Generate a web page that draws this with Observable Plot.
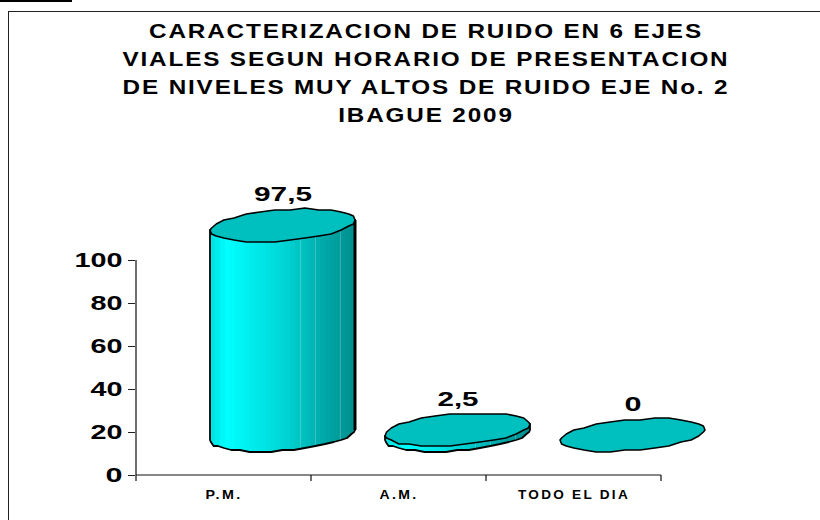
<!DOCTYPE html>
<html><head><meta charset="utf-8">
<script src="https://cdn.jsdelivr.net/npm/d3@7"></script>
<script src="https://cdn.jsdelivr.net/npm/@observablehq/plot@0.6"></script>
<style>
html,body{margin:0;padding:0;background:#fff;width:820px;height:520px;overflow:hidden}
#page{position:relative;width:820px;height:520px;overflow:hidden;font-family:"Liberation Sans",Arial,sans-serif}
#bar{position:absolute;left:0;top:0;width:72px;height:2px;background:#000}
#frame{position:absolute;left:8px;top:11px;width:830px;height:530px;border:1px solid #222;box-sizing:border-box}
#title{position:absolute;left:0;width:852px;top:17px;margin:0;text-align:center;font-size:21px;font-weight:bold;line-height:28px;letter-spacing:1.6px;color:#000;transform:scaleX(1.156);transform-origin:426px 0;white-space:nowrap}
#title span{display:block}
#chart{position:absolute;left:0;top:0}
</style></head><body>
<div id="page">
<div id="bar"></div><div id="frame"></div>
<h1 id="title"><span>CARACTERIZACION DE RUIDO EN 6 EJES</span><span>VIALES SEGUN HORARIO DE PRESENTACION</span><span>DE NIVELES MUY ALTOS DE RUIDO EJE No. 2</span><span>IBAGUE 2009</span></h1>
<div id="chart"></div>
</div>
<script>
const categories = ["P.M.", "A.M.", "TODO EL DIA"];
const values = [97.5, 2.5, 0];
const valueLabels = ["97,5", "2,5", "0"];
const yTicks = [0, 20, 40, 60, 80, 100];

const data = categories.map((c, i) => ({cat: c, value: values[i], label: valueLabels[i]}));
const depthX = 59, depthY = -40;   // pseudo-3D floor offset

function ring(cx, cy, from, to, n) {
  const a = 72.5, b = 15.5, k = 5.5, pts = [];
  for (let j = 0; j <= n; j++) {
    const t = from + (to - from) * j / n;
    pts.push([cx + a * Math.cos(t), Math.round((cy - b * Math.sin(t) - k * Math.cos(t)) / 2) * 2]);
  }
  return pts;
}
const line = d3.line();

function cylinders(I, s, c, dims, ctx) {
  const g = d3.select(ctx.document.createElementNS("http://www.w3.org/2000/svg", "g"));
  const step = c.x[1] - c.x[0];
  const defs = g.append("defs");
  const lg = defs.append("linearGradient").attr("id", "body").attr("x1", 0).attr("x2", 1).attr("y1", 0).attr("y2", 0);
  const ramp = d3.scaleLinear().domain([0, .1, .25, .5, .75, 1]).range(["#00e4e4", "#00ffff", "#00efef", "#00d4d4", "#00abab", "#008c8c"]);
  const bands = 29, light = new Set([18, 21, 26]);
  for (let i = 0; i < bands; i++) {
    const f = i / bands, col = ramp(f);
    if (light.has(i)) {
      const hi = d3.interpolateRgb(col, "#ffffff")(0.22);
      lg.append("stop").attr("offset", f).attr("stop-color", hi);
      lg.append("stop").attr("offset", f + .008).attr("stop-color", hi);
      lg.append("stop").attr("offset", f + .008).attr("stop-color", col);
    } else {
      lg.append("stop").attr("offset", f).attr("stop-color", col);
    }
    lg.append("stop").attr("offset", (i + 1) / bands).attr("stop-color", col);
  }
  for (const i of I) {
    const cx = c.x[i] + step / 2 + depthX;
    const base = c.y1[i] + depthY, top = c.y2[i] + depthY;
    if (top < base) {
      const lower = ring(cx, base, Math.PI, 2 * Math.PI, 20);
      const upper = ring(cx, top, 2 * Math.PI, Math.PI, 1);
      g.append("path").attr("d", line([...lower, ...upper]) + "Z")
        .attr("fill", "url(#body)").attr("stroke", "#000").attr("stroke-width", 1.8).attr("stroke-linejoin", "round");
      if (base - top > 20) {
        g.append("path").attr("d", line([upper[0], lower[lower.length - 1]]))
          .attr("stroke", "#000").attr("stroke-width", 3).attr("fill", "none");
      }
    }
    g.append("path").attr("d", line(ring(cx, top, 0, 2 * Math.PI, 30)) + "Z")
      .attr("fill", "#00bfbf").attr("stroke", "#000").attr("stroke-width", 1.6).attr("stroke-linejoin", "round");
  }
  return g.node();
}

function axisLines(I, s, c, dims, ctx) {
  const g = d3.select(ctx.document.createElementNS("http://www.w3.org/2000/svg", "g"));
  const step = c.x[1] - c.x[0];
  const y0 = dims.height - dims.marginBottom;
  const xs = [...I].map(i => c.x[i]);
  xs.push(xs[xs.length - 1] + step);
  g.append("path").attr("fill", "none").attr("stroke", "#111").attr("stroke-width", 1.2)
    .attr("d", `M${xs[0]},${dims.marginTop}V${y0}H${xs[xs.length - 1]}` + xs.map(x => `M${x},${y0}v6`).join(""));
  return g.node();
}

const plot = Plot.plot({
  width: 820, height: 520,
  marginLeft: 135, marginRight: 158, marginTop: 260, marginBottom: 45,
  style: {background: "transparent", fontFamily: '"Liberation Sans",Arial,sans-serif', overflow: "visible"},
  x: {domain: categories, padding: 0, label: null},
  y: {domain: [0, 100], label: null},
  marks: [
    Plot.barY(data, {x: "cat", y: "value", render: cylinders}),
    Plot.barY(data, {x: "cat", y: "value", render: axisLines}),
    Plot.axisY({ticks: yTicks, tickSize: 7, tickPadding: 6, tickFormat: d => String(d), fontSize: 20, fontWeight: "bold", fill: "#000", stroke: "#222", label: null, marginLeft: 135}),
    Plot.axisX({tickSize: 0, tickPadding: 15, fontSize: 12, fontWeight: "bold", fill: "#000", label: null}),
    Plot.text(data, {x: "cat", y: "value", text: "label", dx: depthX, dy: -71, fontSize: 20, fontWeight: "bold", fill: "#000", lineAnchor: "middle"})
  ]
});
document.getElementById("chart").append(plot);
// the original's labels are horizontally stretched
const widths = {"100": 48, "80": 32, "60": 32, "40": 32, "20": 32, "0": 17, "97,5": 58, "2,5": 41, "P.M.": 37, "A.M.": 39, "TODO EL DIA": 112};
plot.querySelectorAll("text").forEach(t => {
  const w = widths[t.textContent];
  if (w) { t.setAttribute("textLength", w); t.setAttribute("lengthAdjust", "spacingAndGlyphs"); }
  if (categories.includes(t.textContent)) t.style.letterSpacing = "2px";
});
</script>
</body></html>
